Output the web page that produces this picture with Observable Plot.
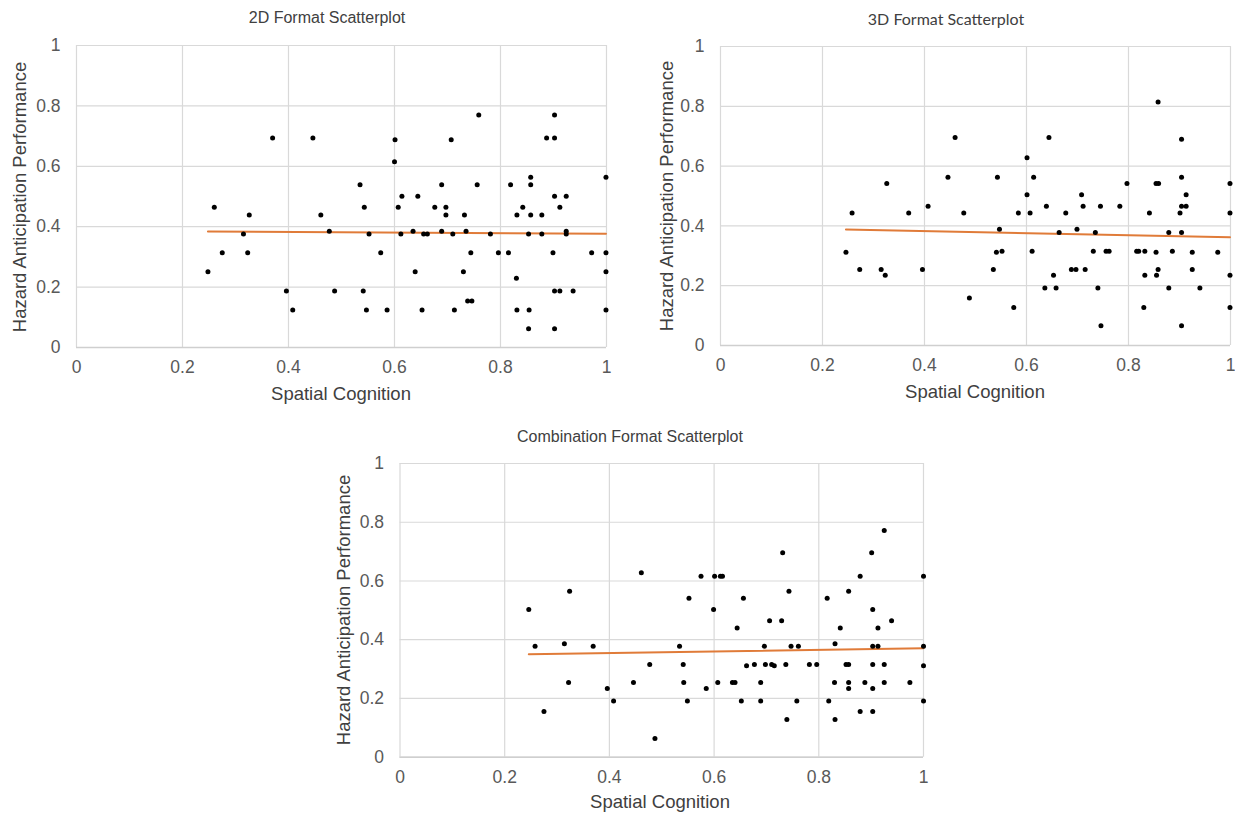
<!DOCTYPE html>
<html>
<head>
<meta charset="utf-8">
<script src="https://cdn.jsdelivr.net/npm/d3@7"></script>
<script src="https://cdn.jsdelivr.net/npm/@observablehq/plot@0.6"></script>
<style>
  html, body { margin: 0; padding: 0; background: #fff; }
  #root { position: relative; width: 1235px; height: 814px; overflow: hidden; background: #fff;
          font-family: "Liberation Sans", Arial, sans-serif; }
  .panel { position: absolute; }
  .txt { position: absolute; white-space: nowrap; color: #404040; }
  .title { font-size: 16px; color: #404040; transform: translate(-50%, -50%); }
  .xlab { font-size: 18.5px; transform: translate(-50%, -50%); }
  .ylab { font-size: 18.5px; transform: translate(-50%, -50%) rotate(-90deg); }
</style>
</head>
<body>
<div id="root"></div>
<script>
// ---------- data ----------
const titles = ["2D Format Scatterplot", "3D Format Scatterplot", "Combination Format Scatterplot"];
const xAxisTitle = "Spatial Cognition";
const yAxisTitle = "Hazard Anticipation Performance";
const tickValues = [0, 0.2, 0.4, 0.6, 0.8, 1];
const tickLabels = ["0", "0.2", "0.4", "0.6", "0.8", "1"];

const x2D = [0.248,0.260,0.275,0.315,0.323,0.326,0.370,0.396,0.408,0.446,0.461,0.477,0.487,0.535,0.541,0.543,0.547,0.552,0.574,0.586,0.600,0.601,0.607,0.612,0.614,0.635,0.639,0.644,0.652,0.655,0.662,0.676,0.689,0.689,0.697,0.697,0.707,0.710,0.713,0.730,0.732,0.735,0.738,0.744,0.746,0.756,0.759,0.781,0.796,0.815,0.819,0.830,0.831,0.831,0.842,0.853,0.853,0.854,0.857,0.857,0.857,0.878,0.878,0.887,0.899,0.902,0.902,0.902,0.902,0.902,0.912,0.912,0.924,0.924,0.924,0.937,0.972,0.999,0.999,0.999,0.999];
const y2D = [0.251,0.464,0.314,0.376,0.314,0.439,0.694,0.187,0.124,0.694,0.439,0.385,0.187,0.539,0.187,0.464,0.124,0.376,0.314,0.124,0.615,0.688,0.464,0.376,0.501,0.385,0.251,0.501,0.124,0.376,0.376,0.464,0.539,0.385,0.464,0.439,0.688,0.376,0.124,0.251,0.439,0.385,0.154,0.314,0.154,0.539,0.770,0.376,0.314,0.314,0.539,0.229,0.439,0.124,0.464,0.376,0.062,0.124,0.564,0.539,0.439,0.439,0.376,0.694,0.314,0.770,0.694,0.501,0.187,0.062,0.464,0.187,0.501,0.385,0.376,0.187,0.314,0.564,0.314,0.251,0.124];

const x3D = [0.246,0.258,0.273,0.315,0.323,0.326,0.369,0.396,0.407,0.446,0.460,0.477,0.488,0.535,0.541,0.543,0.547,0.552,0.575,0.584,0.601,0.601,0.607,0.611,0.614,0.636,0.639,0.644,0.653,0.658,0.664,0.677,0.688,0.697,0.699,0.708,0.711,0.715,0.731,0.735,0.740,0.745,0.746,0.756,0.762,0.783,0.797,0.816,0.820,0.830,0.832,0.832,0.841,0.854,0.854,0.855,0.858,0.858,0.859,0.879,0.879,0.886,0.901,0.904,0.904,0.904,0.904,0.904,0.913,0.913,0.925,0.925,0.940,0.975,0.999,0.999,0.999,0.999];
const y3D = [0.312,0.443,0.254,0.254,0.235,0.542,0.443,0.254,0.466,0.563,0.696,0.443,0.159,0.254,0.312,0.563,0.389,0.315,0.127,0.443,0.628,0.504,0.443,0.315,0.563,0.192,0.466,0.696,0.235,0.192,0.378,0.443,0.254,0.254,0.389,0.504,0.466,0.254,0.315,0.378,0.192,0.466,0.066,0.315,0.315,0.466,0.542,0.315,0.315,0.127,0.315,0.235,0.443,0.542,0.312,0.235,0.814,0.254,0.542,0.378,0.192,0.315,0.443,0.690,0.563,0.466,0.378,0.066,0.504,0.466,0.312,0.254,0.192,0.312,0.542,0.443,0.235,0.127];

const xCombo = [0.246,0.258,0.275,0.314,0.322,0.324,0.369,0.396,0.408,0.446,0.461,0.477,0.487,0.534,0.541,0.542,0.549,0.552,0.575,0.585,0.599,0.601,0.607,0.612,0.616,0.635,0.640,0.644,0.652,0.656,0.662,0.677,0.689,0.689,0.696,0.698,0.706,0.710,0.715,0.729,0.731,0.737,0.739,0.743,0.747,0.758,0.761,0.782,0.796,0.816,0.819,0.830,0.831,0.831,0.841,0.852,0.857,0.857,0.857,0.857,0.879,0.879,0.888,0.901,0.903,0.903,0.903,0.903,0.903,0.913,0.913,0.925,0.925,0.925,0.939,0.974,1.000,1.000,1.000,1.000];
const yCombo = [0.503,0.378,0.156,0.386,0.254,0.565,0.378,0.234,0.191,0.254,0.628,0.316,0.064,0.378,0.316,0.254,0.191,0.541,0.616,0.234,0.503,0.616,0.254,0.616,0.616,0.254,0.254,0.440,0.191,0.541,0.311,0.316,0.254,0.191,0.378,0.316,0.465,0.316,0.311,0.465,0.696,0.316,0.128,0.565,0.378,0.191,0.378,0.316,0.316,0.541,0.191,0.254,0.386,0.128,0.440,0.316,0.565,0.316,0.254,0.234,0.616,0.156,0.254,0.696,0.503,0.378,0.316,0.234,0.156,0.440,0.378,0.772,0.316,0.254,0.465,0.254,0.616,0.378,0.311,0.191];

// ---------- layout ----------
const panels = [
  { xs: x2D, ys: y2D, title: titles[0], left: 0, top: 0, width: 620, height: 412,
    m: { left: 76, right: 14, top: 45, bottom: 65 }, titleX: 327, titleY: 18, titleFont: '"Liberation Sans", Arial, sans-serif',
    ylabX: 20, ylabY: 197, xlabX: 341, xlabY: 394 },
  { xs: x3D, ys: y3D, title: titles[1], left: 640, top: 0, width: 595, height: 412,
    m: { left: 80, right: 5, top: 46, bottom: 67 }, titleX: 946, titleY: 18, titleFont: 'Lato, "Open Sans", sans-serif',
    ylabX: 667, ylabY: 196, xlabX: 975, xlabY: 392 },
  { xs: xCombo, ys: yCombo, title: titles[2], left: 320, top: 420, width: 615, height: 394,
    m: { left: 79.5, right: 12, top: 43, bottom: 57.3 }, titleX: 630, titleY: 437, titleFont: '"Liberation Sans", Arial, sans-serif',
    ylabX: 344, ylabY: 610, xlabX: 660, xlabY: 802 }
];

const root = document.getElementById("root");
const fmt = (d) => tickLabels[tickValues.indexOf(d)];

for (const p of panels) {
  const data = p.xs.map((x, i) => ({ x, y: p.ys[i] }));
  const chart = Plot.plot({
    width: p.width, height: p.height,
    marginLeft: p.m.left, marginRight: p.m.right, marginTop: p.m.top, marginBottom: p.m.bottom,
    style: { fontFamily: '"Liberation Sans", Arial, sans-serif', fontSize: "17.5px", color: "#595959", background: "transparent", overflow: "visible" },
    x: { domain: [0, 1] },
    y: { domain: [0, 1] },
    marks: [
      Plot.gridX(tickValues, { stroke: "#d9d9d9", strokeOpacity: 1, strokeWidth: 1.2 }),
      Plot.gridY(tickValues, { stroke: "#d9d9d9", strokeOpacity: 1, strokeWidth: 1.2 }),
      Plot.ruleY([0], { stroke: "#cfcfcf", strokeWidth: 1.5 }),
      Plot.axisX({ ticks: tickValues, tickFormat: fmt, tickSize: 0, tickPadding: 13, label: null, fill: "#595959" }),
      Plot.axisY({ ticks: tickValues, tickFormat: fmt, tickSize: 0, tickPadding: 16, label: null, fill: "#595959" }),
      Plot.linearRegressionY(data, { x: "x", y: "y", stroke: "#E07B39", strokeWidth: 2, ci: 0 }),
      Plot.dot(data, { x: "x", y: "y", r: 2.5, fill: "#000", stroke: "none" })
    ]
  });
  const holder = document.createElement("div");
  holder.className = "panel";
  holder.style.left = p.left + "px";
  holder.style.top = p.top + "px";
  holder.appendChild(chart);
  root.appendChild(holder);

  const t = document.createElement("div");
  t.className = "txt title";
  t.style.left = p.titleX + "px"; t.style.top = p.titleY + "px";
  t.style.fontFamily = p.titleFont;
  t.textContent = p.title;
  root.appendChild(t);

  const xl = document.createElement("div");
  xl.className = "txt xlab";
  xl.style.left = p.xlabX + "px"; xl.style.top = p.xlabY + "px";
  xl.textContent = xAxisTitle;
  root.appendChild(xl);

  const yl = document.createElement("div");
  yl.className = "txt ylab";
  yl.style.left = p.ylabX + "px"; yl.style.top = p.ylabY + "px";
  yl.textContent = yAxisTitle;
  root.appendChild(yl);
}
</script>
</body>
</html>
